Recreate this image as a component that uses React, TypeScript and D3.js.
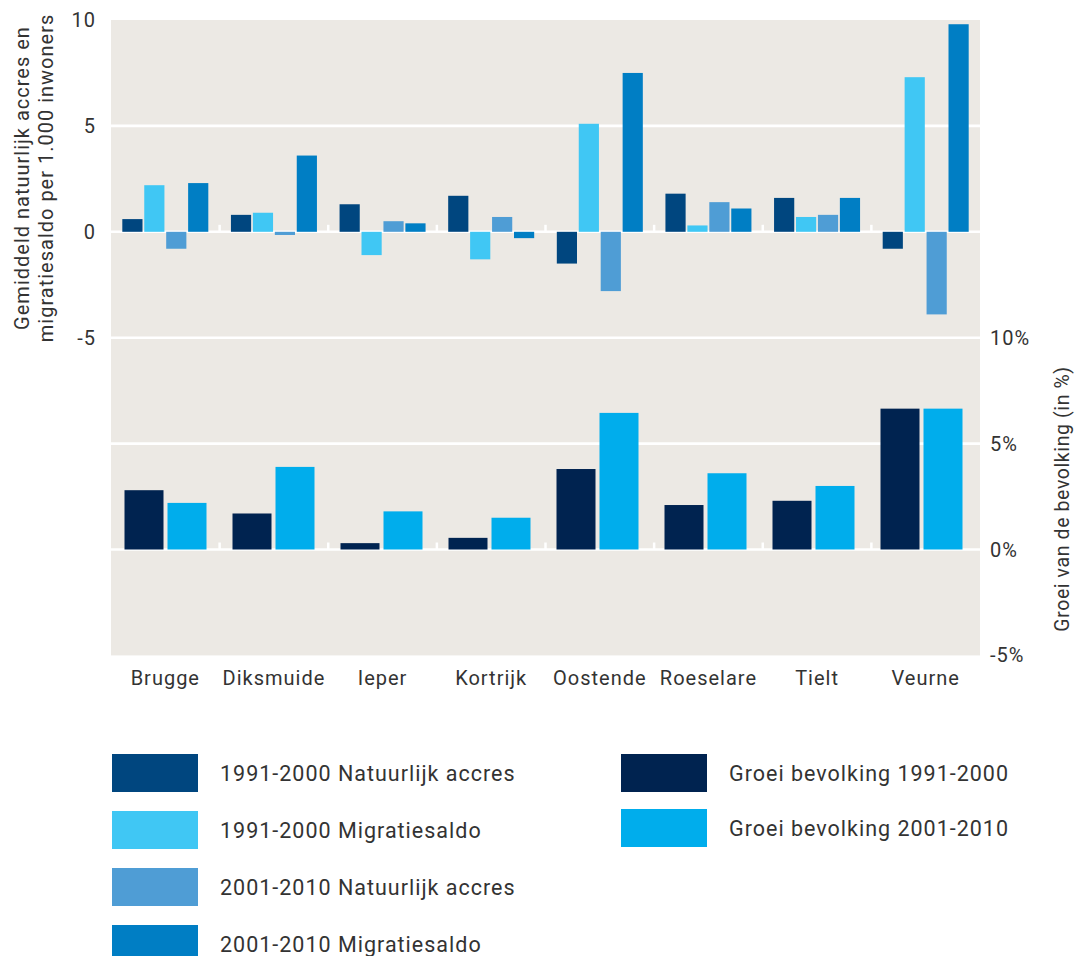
import React from "react";
import * as d3 from "d3";

const categories = ["Brugge", "Diksmuide", "Ieper", "Kortrijk", "Oostende", "Roeselare", "Tielt", "Veurne"];

const topSeries = [
  "1991-2000 Natuurlijk accres",
  "1991-2000 Migratiesaldo",
  "2001-2010 Natuurlijk accres",
  "2001-2010 Migratiesaldo",
];
const nat1991 = [0.6, 0.8, 1.3, 1.7, -1.5, 1.8, 1.6, -0.8];
const mig1991 = [2.2, 0.9, -1.1, -1.3, 5.1, 0.3, 0.7, 7.3];
const nat2001 = [-0.8, -0.15, 0.5, 0.7, -2.8, 1.4, 0.8, -3.9];
const mig2001 = [2.3, 3.6, 0.4, -0.3, 7.5, 1.1, 1.6, 9.8];
const topValues = [nat1991, mig1991, nat2001, mig2001];

const bottomSeries = ["Groei bevolking 1991-2000", "Groei bevolking 2001-2010"];
const groei1991 = [2.8, 1.7, 0.3, 0.55, 3.8, 2.1, 2.3, 6.65];
const groei2001 = [2.2, 3.9, 1.8, 1.5, 6.45, 3.6, 3.0, 6.65];
const bottomValues = [groei1991, groei2001];

const leftTicks = [10, 5, 0, -5];
const rightTicks = [10, 5, 0, -5];

const topColors = ["#00467f", "#40c7f4", "#4f9dd5", "#007ec4"];
const bottomColors = ["#002350", "#00adec"];

const W = 1075;
const H = 956;
const left = 111;
const right = 980;
const top = 20;
const unit = 21.18;

export default function App() {
  const yTop = d3.scaleLinear().domain([10, -5]).range([top, top + 15 * unit]);
  const yBot = d3.scaleLinear().domain([10, -5]).range([top + 15 * unit, top + 30 * unit]);

  const x = d3.scaleBand().domain(categories).range([left, right]).padding(0);
  const xB = d3.scaleBand().domain(categories).range([left + 0.5, left + 0.5 + 8 * 108]).padding(0);

  const inner = d3.scaleBand().domain(topSeries).range([0, 86]).paddingInner(0.08);
  const innerB = d3.scaleBand().domain(bottomSeries).range([0, 82]).paddingInner(0.093);

  const font = "Roboto, 'Noto Sans', sans-serif";
  const textColor = "#333";
  const ls = 1;

  const gridVals = [5, 0, -5];
  const gridValsB = [5, 0];

  return (
    <svg
      width={W}
      height={H}
      style={{ position: "absolute", left: 0, top: 0, background: "#fff" }}
      fontFamily={font}
    >
      <rect x={left} y={yTop(10)} width={right - left} height={yBot(-5) - yTop(10)} fill="#ece9e4" />
      {gridVals.map((v) => (
        <line key={"g" + v} x1={left} x2={right} y1={yTop(v)} y2={yTop(v)} stroke="#fff" strokeWidth={2.6} />
      ))}
      {gridValsB.map((v) => (
        <line key={"gb" + v} x1={left} x2={right} y1={yBot(v)} y2={yBot(v)} stroke="#fff" strokeWidth={2.6} />
      ))}
      {categories.slice(1).map((c) => (
        <g key={"t" + c}>
          <line x1={x(c)!} x2={x(c)!} y1={yTop(0)} y2={yTop(0) - 7} stroke="#fff" strokeWidth={2.5} />
          <line x1={x(c)!} x2={x(c)!} y1={yBot(0)} y2={yBot(0) - 7} stroke="#fff" strokeWidth={2.5} />
        </g>
      ))}

      {categories.map((c, i) => {
        const cx = x(c)! + x.bandwidth() / 2 - 43;
        return topSeries.map((s, j) => {
          const v = topValues[j][i];
          const y0 = yTop(0);
          const y1 = yTop(v);
          return (
            <rect
              key={c + s}
              x={cx + inner(s)!}
              y={Math.min(y0, y1)}
              width={inner.bandwidth()}
              height={Math.abs(y1 - y0)}
              fill={topColors[j]}
            />
          );
        });
      })}

      {categories.map((c, i) => {
        const cx = xB(c)! + xB.bandwidth() / 2 - 41;
        return bottomSeries.map((s, j) => {
          const v = bottomValues[j][i];
          const y0 = yBot(0);
          const y1 = yBot(v);
          return (
            <rect
              key={c + s}
              x={cx + innerB(s)!}
              y={Math.min(y0, y1)}
              width={innerB.bandwidth()}
              height={Math.abs(y1 - y0)}
              fill={bottomColors[j]}
            />
          );
        });
      })}

      {leftTicks.map((v) => (
        <text key={"l" + v} x={96} y={yTop(v)} dy="0.35em" textAnchor="end" fontSize={20} letterSpacing={ls} fill={textColor}>
          {v}
        </text>
      ))}
      {rightTicks.map((v) => (
        <text key={"r" + v} x={990} y={yBot(v)} dy="0.35em" textAnchor="start" fontSize={20} letterSpacing={ls} fill={textColor}>
          {v + "%"}
        </text>
      ))}

      <g transform={`translate(29,178) rotate(-90)`}>
        <text x={0} y={0} textAnchor="middle" fontSize={20} letterSpacing={ls} fill={textColor}>
          Gemiddeld natuurlijk accres en
        </text>
        <text x={0} y={24} textAnchor="middle" fontSize={20} letterSpacing={ls} fill={textColor}>
          migratiesaldo per 1.000 inwoners
        </text>
      </g>
      <g transform={`translate(1069,499) rotate(-90)`}>
        <text x={0} y={0} textAnchor="middle" fontSize={19.5} letterSpacing={0.6} fill={textColor}>
          Groei van de bevolking (in %)
        </text>
      </g>

      {categories.map((c) => (
        <text key={"c" + c} x={x(c)! + x.bandwidth() / 2} y={685} textAnchor="middle" fontSize={20} letterSpacing={ls} fill={textColor}>
          {c}
        </text>
      ))}

      {topSeries.map((s, j) => (
        <g key={"lg" + s} transform={`translate(112,${754 + j * 57})`}>
          <rect x={0} y={0} width={86} height={38} fill={topColors[j]} />
          <text x={108} y={19} dy="0.35em" fontSize={21.5} letterSpacing={ls} fill={textColor}>
            {s}
          </text>
        </g>
      ))}
      {bottomSeries.map((s, j) => (
        <g key={"lgb" + s} transform={`translate(621,${754 + j * 55})`}>
          <rect x={0} y={0} width={86} height={38} fill={bottomColors[j]} />
          <text x={108} y={19} dy="0.35em" fontSize={21.5} letterSpacing={ls} fill={textColor}>
            {s}
          </text>
        </g>
      ))}
    </svg>
  );
}
